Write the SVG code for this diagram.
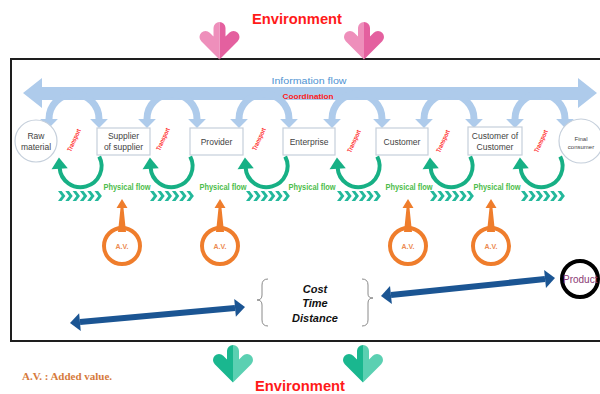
<svg xmlns="http://www.w3.org/2000/svg" width="600" height="394" viewBox="0 0 600 394">
<style>
.env{font-family:"Liberation Sans",Arial,sans-serif;font-weight:bold;font-size:15px;fill:#ff1a1a;text-anchor:middle}
.box{fill:#fff;stroke:#c5cfdb;stroke-width:1.2}
.lbl{font-family:"Liberation Sans",Arial,sans-serif;font-size:8.5px;fill:#3f3f3f;text-anchor:middle}
.sm{font-family:"Liberation Sans",Arial,sans-serif;font-size:6px;fill:#3f3f3f;text-anchor:middle}
.tr{font-family:"Liberation Sans",Arial,sans-serif;font-size:6.5px;font-weight:bold;fill:#ff2a2a;text-anchor:middle}
.pf{font-family:"Liberation Sans",Arial,sans-serif;font-size:8.5px;font-weight:bold;fill:#4dbd4b;text-anchor:middle}
.arch{fill:none;stroke:#aecbeb;stroke-width:7;marker-start:url(#ah);marker-end:url(#ah)}
.loop{fill:none;stroke:#17b085;stroke-width:4;marker-end:url(#gh)}
.av{fill:none;stroke:#ef7d2c;stroke-width:4}
.avt{font-family:"Liberation Sans",Arial,sans-serif;font-size:7px;font-weight:bold;fill:#ec8a50;text-anchor:middle}
.spike{fill:#ef7d2c}
.blue{stroke:#1b5593;stroke-width:6;marker-start:url(#bh);marker-end:url(#bh)}
.ctd{font-family:"Liberation Sans",Arial,sans-serif;font-size:11px;font-weight:bold;font-style:italic;fill:#111;text-anchor:middle}
.brace{fill:none;stroke:#8a8a8a;stroke-width:1}
</style>
<defs>
<marker id="ah" markerUnits="userSpaceOnUse" orient="auto-start-reverse" markerWidth="20" markerHeight="20" refX="0" refY="0" viewBox="-1 -9 12 18" overflow="visible">
<path d="M0,-8 L8,0 L0,8 z" fill="#aecbeb"/>
</marker>
<marker id="gh" markerUnits="userSpaceOnUse" orient="auto" markerWidth="20" markerHeight="20" refX="0" refY="0" viewBox="-1 -8 11 16" overflow="visible">
<path d="M-1,-6.5 L8,0 L-1,6.5 z" fill="#17b085"/>
</marker>
<marker id="bh" markerUnits="userSpaceOnUse" orient="auto-start-reverse" markerWidth="20" markerHeight="20" refX="0" refY="0" viewBox="-1 -10 12 20" overflow="visible">
<path d="M0,-9 L10,0 L0,9 z" fill="#1b5593"/>
</marker>
<g id="chev" fill="#23b89b">
<polygon points="0,0 3.6,0 7.4,5 3.6,10 0,10 3.8,5"/>
<polygon points="7.3,0 10.9,0 14.7,5 10.9,10 7.3,10 11.1,5"/>
<polygon points="14.6,0 18.2,0 22,5 18.2,10 14.6,10 18.4,5"/>
<polygon points="21.9,0 25.5,0 29.3,5 25.5,10 21.9,10 25.7,5"/>
<polygon points="29.2,0 32.8,0 36.6,5 32.8,10 29.2,10 33,5"/>
<polygon points="36.5,0 40.1,0 43.9,5 40.1,10 36.5,10 40.3,5"/>
</g>
<path id="dn" d="M0,-27 V-4 M-14,-18 L0,-4 L14,-18" fill="none" stroke-width="12" stroke-linecap="round" stroke-linejoin="miter"/>
<clipPath id="lh"><rect x="-30" y="-40" width="30" height="60"/></clipPath>
<clipPath id="rh"><rect x="0" y="-40" width="30" height="60"/></clipPath>
<polygon id="spk" points="-4,232 -1.5,208 -5.5,208 0,199 5.5,208 1.5,208 4,232"/>
</defs>

<!-- frame -->
<rect x="11" y="59" width="600" height="282" fill="none" stroke="#1e1e1e" stroke-width="2"/>

<!-- environment top -->
<g id="env-top">
<text class="env" x="297" y="24" textLength="90" lengthAdjust="spacingAndGlyphs">Environment</text>
<g transform="translate(219.5,55)"><use href="#dn" stroke="#e4609f" clip-path="url(#rh)"/><use href="#dn" stroke="#ee8fbb" clip-path="url(#lh)"/></g>
<g transform="translate(364,55)"><use href="#dn" stroke="#e4609f" clip-path="url(#rh)"/><use href="#dn" stroke="#ee8fbb" clip-path="url(#lh)"/></g>
</g>

<!-- info flow -->
<g id="info-flow">
<polygon points="23,93 42,78 42,87 578,87 578,78 597,93 578,108 578,100 42,100 42,108" fill="#aecbeb"/>
<text x="309" y="84" font-family="Liberation Sans,Arial,sans-serif" font-size="9.5" fill="#4f93d2" text-anchor="middle" textLength="75" lengthAdjust="spacingAndGlyphs">Information flow</text>
<text x="308" y="98.5" font-family="Liberation Sans,Arial,sans-serif" font-size="7" font-weight="bold" fill="#ff1a1a" text-anchor="middle" textLength="51" lengthAdjust="spacingAndGlyphs">Coordination</text>
</g>

<!-- connectors -->
<g id="connectors">
<path class="arch" d="M49,119 A25 25 0 0 1 99,119"/>
<path class="arch" d="M147,119 A25 25 0 0 1 197,119"/>
<path class="arch" d="M239,119 A25 25 0 0 1 289,119"/>
<path class="arch" d="M332,119 A25 25 0 0 1 382,119"/>
<path class="arch" d="M424,119 A25 25 0 0 1 474,119"/>
<path class="arch" d="M515,119 A25 25 0 0 1 565,119"/>

<path class="loop" d="M99.2,156.5 A21 21 0 1 1 59.6,167.5"/>
<path class="loop" d="M190.2,156.5 A21 21 0 1 1 150.6,167.5"/>
<path class="loop" d="M285.2,156.5 A21 21 0 1 1 245.6,167.5"/>
<path class="loop" d="M377.2,156.5 A21 21 0 1 1 337.6,167.5"/>
<path class="loop" d="M470.2,156.5 A21 21 0 1 1 430.6,167.5"/>
<path class="loop" d="M560.2,156.5 A21 21 0 1 1 520.6,167.5"/>

<use href="#chev" x="58" y="191"/>
<use href="#chev" x="150" y="191"/>
<use href="#chev" x="246" y="191"/>
<use href="#chev" x="337" y="191"/>
<use href="#chev" x="430" y="191"/>
<use href="#chev" x="521" y="191"/>

<text class="tr" transform="translate(76,141) rotate(-65)" textLength="24" lengthAdjust="spacingAndGlyphs">Transport</text>
<text class="tr" transform="translate(165,140) rotate(-65)" textLength="24" lengthAdjust="spacingAndGlyphs">Transport</text>
<text class="tr" transform="translate(261,140) rotate(-65)" textLength="24" lengthAdjust="spacingAndGlyphs">Transport</text>
<text class="tr" transform="translate(356,142) rotate(-65)" textLength="24" lengthAdjust="spacingAndGlyphs">Transport</text>
<text class="tr" transform="translate(445,142) rotate(-65)" textLength="24" lengthAdjust="spacingAndGlyphs">Transport</text>
<text class="tr" transform="translate(543,142) rotate(-65)" textLength="24" lengthAdjust="spacingAndGlyphs">Transport</text>

<text class="pf" x="127" y="190" textLength="47" lengthAdjust="spacingAndGlyphs">Physical flow</text>
<text class="pf" x="223" y="190" textLength="47" lengthAdjust="spacingAndGlyphs">Physical flow</text>
<text class="pf" x="312" y="190" textLength="47" lengthAdjust="spacingAndGlyphs">Physical flow</text>
<text class="pf" x="409" y="190" textLength="47" lengthAdjust="spacingAndGlyphs">Physical flow</text>
<text class="pf" x="497" y="190" textLength="47" lengthAdjust="spacingAndGlyphs">Physical flow</text>

<line class="blue" x1="79.96" y1="322.09" x2="235.04" y2="307.91"/>
<line class="blue" x1="390.95" y1="294.97" x2="545.05" y2="279.03"/>
</g>

<!-- nodes -->
<g id="raw-material">
<circle cx="36" cy="141" r="21" fill="#fff" stroke="#c5cfdb" stroke-width="1.2"/>
<text class="lbl" x="36" y="139">Raw</text>
<text class="lbl" x="36" y="149.5">material</text>
</g>
<g id="supplier-of-supplier">
<rect class="box" x="97" y="128" width="53" height="27"/>
<text class="lbl" x="123.5" y="139">Supplier</text>
<text class="lbl" x="123.5" y="150">of supplier</text>
</g>
<g id="provider">
<rect class="box" x="190" y="128" width="53" height="27"/>
<text class="lbl" x="216.5" y="145">Provider</text>
</g>
<g id="enterprise">
<rect class="box" x="283" y="128" width="52" height="27"/>
<text class="lbl" x="309" y="145">Enterprise</text>
</g>
<g id="customer">
<rect class="box" x="376" y="128" width="52" height="27"/>
<text class="lbl" x="402" y="145">Customer</text>
</g>
<g id="customer-of-customer">
<rect class="box" x="468" y="127" width="54" height="28"/>
<text class="lbl" x="495" y="138.5">Customer of</text>
<text class="lbl" x="495" y="150">Customer</text>
</g>
<g id="final-consumer">
<circle cx="581" cy="141" r="22" fill="#fff" stroke="#c5cfdb" stroke-width="1.2"/>
<text class="sm" x="581" y="141">Final</text>
<text class="sm" x="581" y="149">consumer</text>
</g>

<g id="av1"><use href="#spk" x="122" class="spike"/><circle class="av" cx="122" cy="246" r="18"/><text class="avt" x="122" y="249">A.V.</text></g>
<g id="av2"><use href="#spk" x="220" class="spike"/><circle class="av" cx="220" cy="246" r="18"/><text class="avt" x="220" y="249">A.V.</text></g>
<g id="av3"><use href="#spk" x="408" class="spike"/><circle class="av" cx="408" cy="246" r="18"/><text class="avt" x="408" y="249">A.V.</text></g>
<g id="av4"><use href="#spk" x="491" class="spike"/><circle class="av" cx="491" cy="246" r="18"/><text class="avt" x="491" y="249">A.V.</text></g>

<g id="ctd">
<path class="brace" d="M268,279 Q262,279 262,285 L262,295 Q262,300 257,300 Q262,300 262,305 L262,320 Q262,326 268,326"/>
<path class="brace" d="M362,279 Q368,279 368,285 L368,294 Q368,298 373,298 Q368,298 368,303 L368,320 Q368,326 362,326"/>
<text class="ctd" x="315" y="293">Cost</text>
<text class="ctd" x="315" y="307">Time</text>
<text class="ctd" x="315" y="322">Distance</text>
</g>

<g id="product">
<circle cx="580" cy="279" r="18" fill="#fff" stroke="#000" stroke-width="4"/>
<text x="563" y="282.5" font-family="Liberation Sans,Arial,sans-serif" font-size="10" fill="#8b3a75">Product</text>
</g>

<!-- environment bottom -->
<g id="env-bottom">
<g transform="translate(233,378)"><use href="#dn" stroke="#1ab78f" clip-path="url(#lh)"/><use href="#dn" stroke="#5bd0b2" clip-path="url(#rh)"/></g>
<g transform="translate(363,378)"><use href="#dn" stroke="#1ab78f" clip-path="url(#lh)"/><use href="#dn" stroke="#5bd0b2" clip-path="url(#rh)"/></g>
<text class="env" x="300" y="391" textLength="90" lengthAdjust="spacingAndGlyphs">Environment</text>
</g>

<text x="22" y="380" font-family="Liberation Serif,Times New Roman,serif" font-size="10" font-weight="bold" fill="#d67a3c" textLength="90" lengthAdjust="spacingAndGlyphs">A.V. : Added value.</text>
</svg>
